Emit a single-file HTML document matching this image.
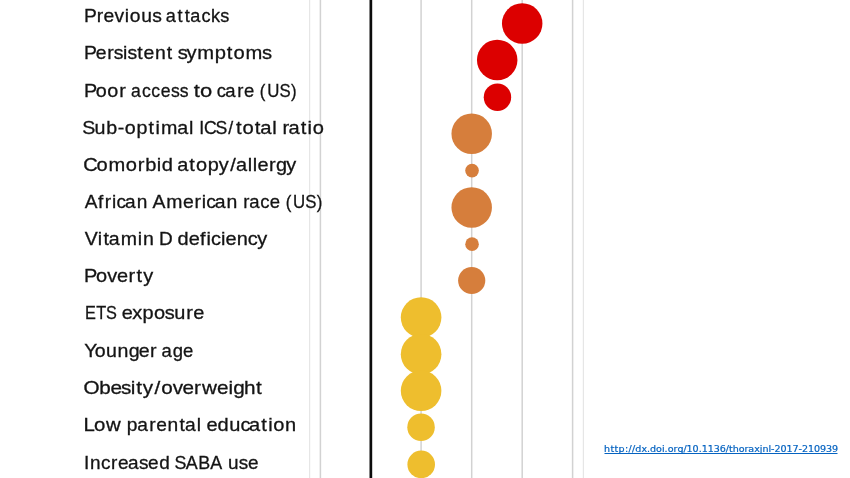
<!DOCTYPE html>
<html lang="en">
<head>
<meta charset="utf-8">
<title>Risk factors for asthma attacks</title>
<style>
html,body{margin:0;padding:0;background:#fff;}
body{width:850px;height:478px;overflow:hidden;position:relative;}
svg{display:block;position:absolute;left:0;top:0;}
.lbl{font-family:"Liberation Sans",sans-serif;font-size:18.6px;fill:#141414;stroke:#141414;stroke-width:0.3px;font-kerning:none;font-variant-ligatures:none;white-space:pre;}
.lnk{font-family:"DejaVu Sans","Liberation Sans",sans-serif;font-size:8.8px;fill:#0563c1;stroke:#0563c1;stroke-width:0.2px;}
</style>
</head>
<body>
<svg width="850" height="478" viewBox="0 0 850 478">
<rect width="850" height="478" fill="#ffffff"/>
<g stroke="#d2d2d2" stroke-width="1.5">
<line x1="320.4" y1="0" x2="320.4" y2="478"/>
<line x1="421.1" y1="0" x2="421.1" y2="478"/>
<line x1="471.7" y1="0" x2="471.7" y2="478"/>
<line x1="522.2" y1="0" x2="522.2" y2="478"/>
<line x1="572.6" y1="0" x2="572.6" y2="478"/>
</g>
<g stroke="#e6e6e6" stroke-width="1.2">
<line x1="309.6" y1="0" x2="309.6" y2="478"/>
<line x1="583.4" y1="0" x2="583.4" y2="478"/>
</g>
<line x1="370.85" y1="0" x2="370.85" y2="478" stroke="#0c0c0c" stroke-width="2.7"/>
<circle cx="522.20" cy="23.55" r="20.25" fill="#dc0000"/>
<circle cx="497.20" cy="59.95" r="20.25" fill="#dc0000"/>
<circle cx="497.45" cy="97.27" r="13.70" fill="#dc0000"/>
<circle cx="471.70" cy="133.75" r="20.25" fill="#d67e3c"/>
<circle cx="472.05" cy="170.60" r="6.80" fill="#d67e3c"/>
<circle cx="471.70" cy="207.55" r="20.25" fill="#d67e3c"/>
<circle cx="472.05" cy="244.15" r="6.80" fill="#d67e3c"/>
<circle cx="471.70" cy="280.50" r="13.60" fill="#d67e3c"/>
<circle cx="421.10" cy="317.50" r="20.30" fill="#eebe2e"/>
<circle cx="421.10" cy="354.20" r="20.30" fill="#eebe2e"/>
<circle cx="421.10" cy="390.80" r="20.30" fill="#eebe2e"/>
<circle cx="421.05" cy="427.30" r="13.75" fill="#eebe2e"/>
<circle cx="421.20" cy="464.40" r="13.80" fill="#eebe2e"/>
<g class="lbl">
<text y="21.70"><tspan x="84.13 96.73 103.62 114.50 124.68 129.82 141.36 152.15 161.20" textLength="80.38" lengthAdjust="spacingAndGlyphs">Previous </tspan><tspan x="165.80 177.62 184.70 190.35 201.42 211.03 220.30" textLength="57.45" lengthAdjust="spacingAndGlyphs">attacks</tspan></text>
<text y="58.70"><tspan x="84.11 95.84 107.38 113.65 123.14 127.43 137.21 143.61 155.00 166.89 173.37" textLength="91.68" lengthAdjust="spacingAndGlyphs">Persistent </tspan><tspan x="177.78 186.62 197.25 214.77 226.80 233.43 245.42 261.99" textLength="91.97" lengthAdjust="spacingAndGlyphs">symptoms</tspan></text>
<text y="96.80"><tspan x="83.92 95.84 107.38 119.17 126.28" textLength="47.27" lengthAdjust="spacingAndGlyphs">Poor </tspan><tspan x="130.99 141.97 151.22 160.80 171.08 179.65 188.25" textLength="59.64" lengthAdjust="spacingAndGlyphs">access </tspan><tspan x="193.72 199.98 211.85" textLength="24.40" lengthAdjust="spacingAndGlyphs">to </tspan><tspan x="216.83 225.36 237.13 244.04 254.61" textLength="41.09" lengthAdjust="spacingAndGlyphs">care </tspan><tspan x="259.85 267.13 279.56 291.02" textLength="34.59" lengthAdjust="spacingAndGlyphs">(US)</tspan></text>
<text y="133.80"><tspan x="82.36 94.43 106.34 117.65 124.73 136.59 148.56 155.47 161.00 177.20 189.03 193.76" textLength="110.49" lengthAdjust="spacingAndGlyphs">Sub-optimal </tspan><tspan x="199.15 203.97 215.40 228.33" textLength="34.48" lengthAdjust="spacingAndGlyphs">ICS/</tspan><tspan x="235.92 242.57 254.89 260.31 272.23 277.02" textLength="43.93" lengthAdjust="spacingAndGlyphs">total </tspan><tspan x="282.60 288.46 300.67 307.59 312.68" textLength="39.07" lengthAdjust="spacingAndGlyphs">ratio</tspan></text>
<text y="170.80"><tspan x="83.29 96.63 108.54 125.87 137.76 145.31 156.81 161.65 173.18" textLength="92.67" lengthAdjust="spacingAndGlyphs">Comorbid </tspan><tspan x="177.26 189.35 195.96 207.70 218.78 230.24 235.97 247.75 252.81 257.54 269.06 275.95 286.29" textLength="112.86" lengthAdjust="spacingAndGlyphs">atopy/allergy</tspan></text>
<text y="208.00"><tspan x="84.69 97.97 104.72 112.08 116.59 125.11 136.83 147.80" textLength="64.59" lengthAdjust="spacingAndGlyphs">African </tspan><tspan x="152.62 166.18 183.02 194.42 201.82 206.27 214.79 226.49 237.59" textLength="87.39" lengthAdjust="spacingAndGlyphs">American </tspan><tspan x="243.30 249.21 260.23 269.81 280.38" textLength="41.12" lengthAdjust="spacingAndGlyphs">race </tspan><tspan x="285.64 292.93 305.36 316.84" textLength="34.62" lengthAdjust="spacingAndGlyphs">(US)</tspan></text>
<text y="245.00"><tspan x="84.79 97.84 103.41 108.77 120.77 137.89 142.97 154.10" textLength="70.59" lengthAdjust="spacingAndGlyphs">Vitamin </tspan><tspan x="158.97 172.50" textLength="19.00" lengthAdjust="spacingAndGlyphs">D </tspan><tspan x="177.51 188.87 200.12 206.62 210.99 220.90 225.55 236.79 247.66 257.23" textLength="88.61" lengthAdjust="spacingAndGlyphs">deficiency</tspan></text>
<text y="282.00"><tspan x="83.92 95.97 107.27 117.01 128.57 136.60 143.17" textLength="67.53" lengthAdjust="spacingAndGlyphs">Poverty</tspan></text>
<text y="319.30"><tspan x="84.97 96.25 106.09 116.71" textLength="36.25" lengthAdjust="spacingAndGlyphs">ETS </tspan><tspan x="121.73 132.25 142.46 154.01 164.84 174.30 186.28 193.17" textLength="82.12" lengthAdjust="spacingAndGlyphs">exposure</tspan></text>
<text y="357.10"><tspan x="84.18 94.67 106.06 117.61 128.76 138.77 150.12 157.18" textLength="79.39" lengthAdjust="spacingAndGlyphs">Younger </tspan><tspan x="161.56 172.86 182.88" textLength="30.81" lengthAdjust="spacingAndGlyphs">age</tspan></text>
<text y="394.00"><tspan x="83.61 99.23 110.48 120.98 130.66 136.28 142.80 154.42 161.32 172.69 182.45 194.12 202.04 217.07 228.57 233.29 244.02 256.11" textLength="176.02" lengthAdjust="spacingAndGlyphs">Obesity/overweight</tspan></text>
<text y="431.30"><tspan x="83.46 93.91 105.92 121.23" textLength="43.06" lengthAdjust="spacingAndGlyphs">Low </tspan><tspan x="126.89 137.27 149.25 156.22 167.62 179.50 185.04 196.74 201.43" textLength="74.69" lengthAdjust="spacingAndGlyphs">parental </tspan><tspan x="206.43 217.61 229.36 240.53 249.14 261.33 268.23 273.30 285.06" textLength="86.87" lengthAdjust="spacingAndGlyphs">education</tspan></text>
<text y="468.70"><tspan x="84.14 90.11 101.02 111.11 118.02 128.11 138.93 148.13 159.20 170.42" textLength="88.68" lengthAdjust="spacingAndGlyphs">Increased </tspan><tspan x="174.40 185.75 198.14 210.25 222.58" textLength="52.76" lengthAdjust="spacingAndGlyphs">SABA </tspan><tspan x="228.01 238.77 247.97" textLength="30.55" lengthAdjust="spacingAndGlyphs">use</tspan></text>
</g>
<text class="lnk" x="604.00 610.44 614.48 618.62 625.04 628.51 631.98 635.36 641.41 647.06 650.09 656.14 661.98 664.62 667.65 673.48 677.40 683.44 686.62 692.64 698.68 701.68 707.70 713.73 719.75 725.80 728.98 732.68 738.69 744.49 748.38 754.18 759.81 762.41 768.43 771.06 774.46 780.49 786.51 792.54 798.58 801.98 808.01 814.03 820.06 826.08 832.11" y="452.1" textLength="234.04" lengthAdjust="spacingAndGlyphs">http://dx.doi.org/10.1136/thoraxjnl-2017-210939</text>
<rect x="604.5" y="453" width="233" height="1" fill="#0563c1"/>
</svg>
</body>
</html>
